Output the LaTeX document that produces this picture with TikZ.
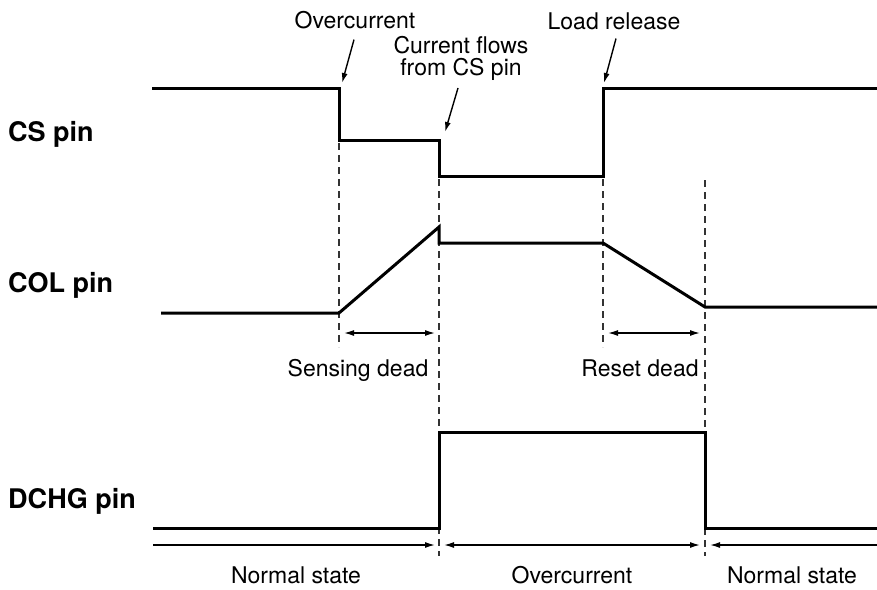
\documentclass[tikz,border=0pt]{standalone}
\usepackage{fontspec}
\setmainfont{TeX Gyre Heros}
\usetikzlibrary{arrows.meta}
\begin{document}
\begin{tikzpicture}[x=1pt,y=-1pt,
  wave/.style={line width=3pt, line join=miter},
  guide/.style={line width=1.3pt, dash pattern=on 7pt off 5pt, black!80},
  dimarrow/.style={line width=1.4pt, {Latex[length=10pt,width=6pt]}-{Latex[length=10pt,width=6pt]}},
  rarrow/.style={line width=1.4pt, -{Latex[length=10pt,width=6pt]}},
  larrow/.style={line width=1.4pt, {Latex[length=10pt,width=6pt]}-},
  ptr/.style={line width=1.4pt, -{Latex[length=10pt,width=6pt]}},
  lbl/.style={font=\fontsize{23}{22}\selectfont, inner sep=0pt, anchor=base},
  pinlbl/.style={font=\fontsize{27}{27}\selectfont\bfseries, inner sep=0pt, anchor=base west}]
\useasboundingbox (0,0) rectangle (877,589);

% pin labels
\node[pinlbl] (cslbl) at (8,141) {CS pin};
\node[pinlbl] (collbl) at (8,292) {COL pin};
\node[pinlbl] (dchglbl) at (8,508) {DCHG pin};

% dashed guides
\draw[guide] (339,143) coordinate (g1t) -- (339,347) coordinate (g1b);
\draw[guide] (439,179) coordinate (g2t) -- (439,556) coordinate (g2b);
\draw[guide] (603,179) coordinate (g3t) -- (603,347) coordinate (g3b);
\draw[guide] (705,180) coordinate (g4t) -- (705,556) coordinate (g4b);

% waveforms
\draw[wave] (152,88) -- (339,88) -- (339,140) -- (439,140) -- (439,176) -- (603,176) -- (603,88) -- (877,88);
\draw[wave] (161,313) -- (339,313) -- (439,227) -- (439,243) -- (603,243) -- (705,307) -- (877,307);
\draw[wave] (153,528) -- (439,528) -- (439,432) -- (705,432) -- (705,528) -- (877,528);

% top labels and pointers
\node[lbl] (ovlbl) at (355,28) {Overcurrent};
\coordinate (ovtip) at (342,83);
\draw[ptr] ([shift={(-1,11)}]ovlbl.south) -- (ovtip);

\node[lbl] (cf1) at (461,53) {Current flows};
\node[lbl] (cf2) at (461,75) {from CS pin};
\coordinate (cftip) at (445,132);
\draw[ptr] ([shift={(-3,13)}]cf2.base) -- (cftip);

\node[lbl] (lrlbl) at (614,29) {Load release};
\coordinate (lrtip) at (604,83);
\draw[ptr] ([shift={(2,9)}]lrlbl.south) -- (lrtip);

% dead-time dimensions
\coordinate (sd1) at (344,333);
\coordinate (sd2) at (435,333);
\draw[dimarrow] (sd1) -- (sd2);
\node[lbl] (sdlbl) at (358,376) {Sensing dead};

\coordinate (rd1) at (608,333);
\coordinate (rd2) at (700,333);
\draw[dimarrow] (rd1) -- (rd2);
\node[lbl] (rdlbl) at (640,376) {Reset dead};

% state dimensions
\coordinate (s1a) at (153,545);
\coordinate (s1b) at (435,545);
\coordinate (s2a) at (444,545);
\coordinate (s2b) at (700,545);
\coordinate (s3a) at (710,545);
\coordinate (s3b) at (877,545);
\draw[rarrow] (s1a) -- (s1b);
\draw[dimarrow] (s2a) -- (s2b);
\draw[larrow] (s3a) -- (s3b);

\node[lbl] (ns1) at (296,583) {Normal state};
\node[lbl] (oc) at (572,583) {Overcurrent};
\node[lbl] (ns2) at (792,583) {Normal state};
\end{tikzpicture}
\end{document}
